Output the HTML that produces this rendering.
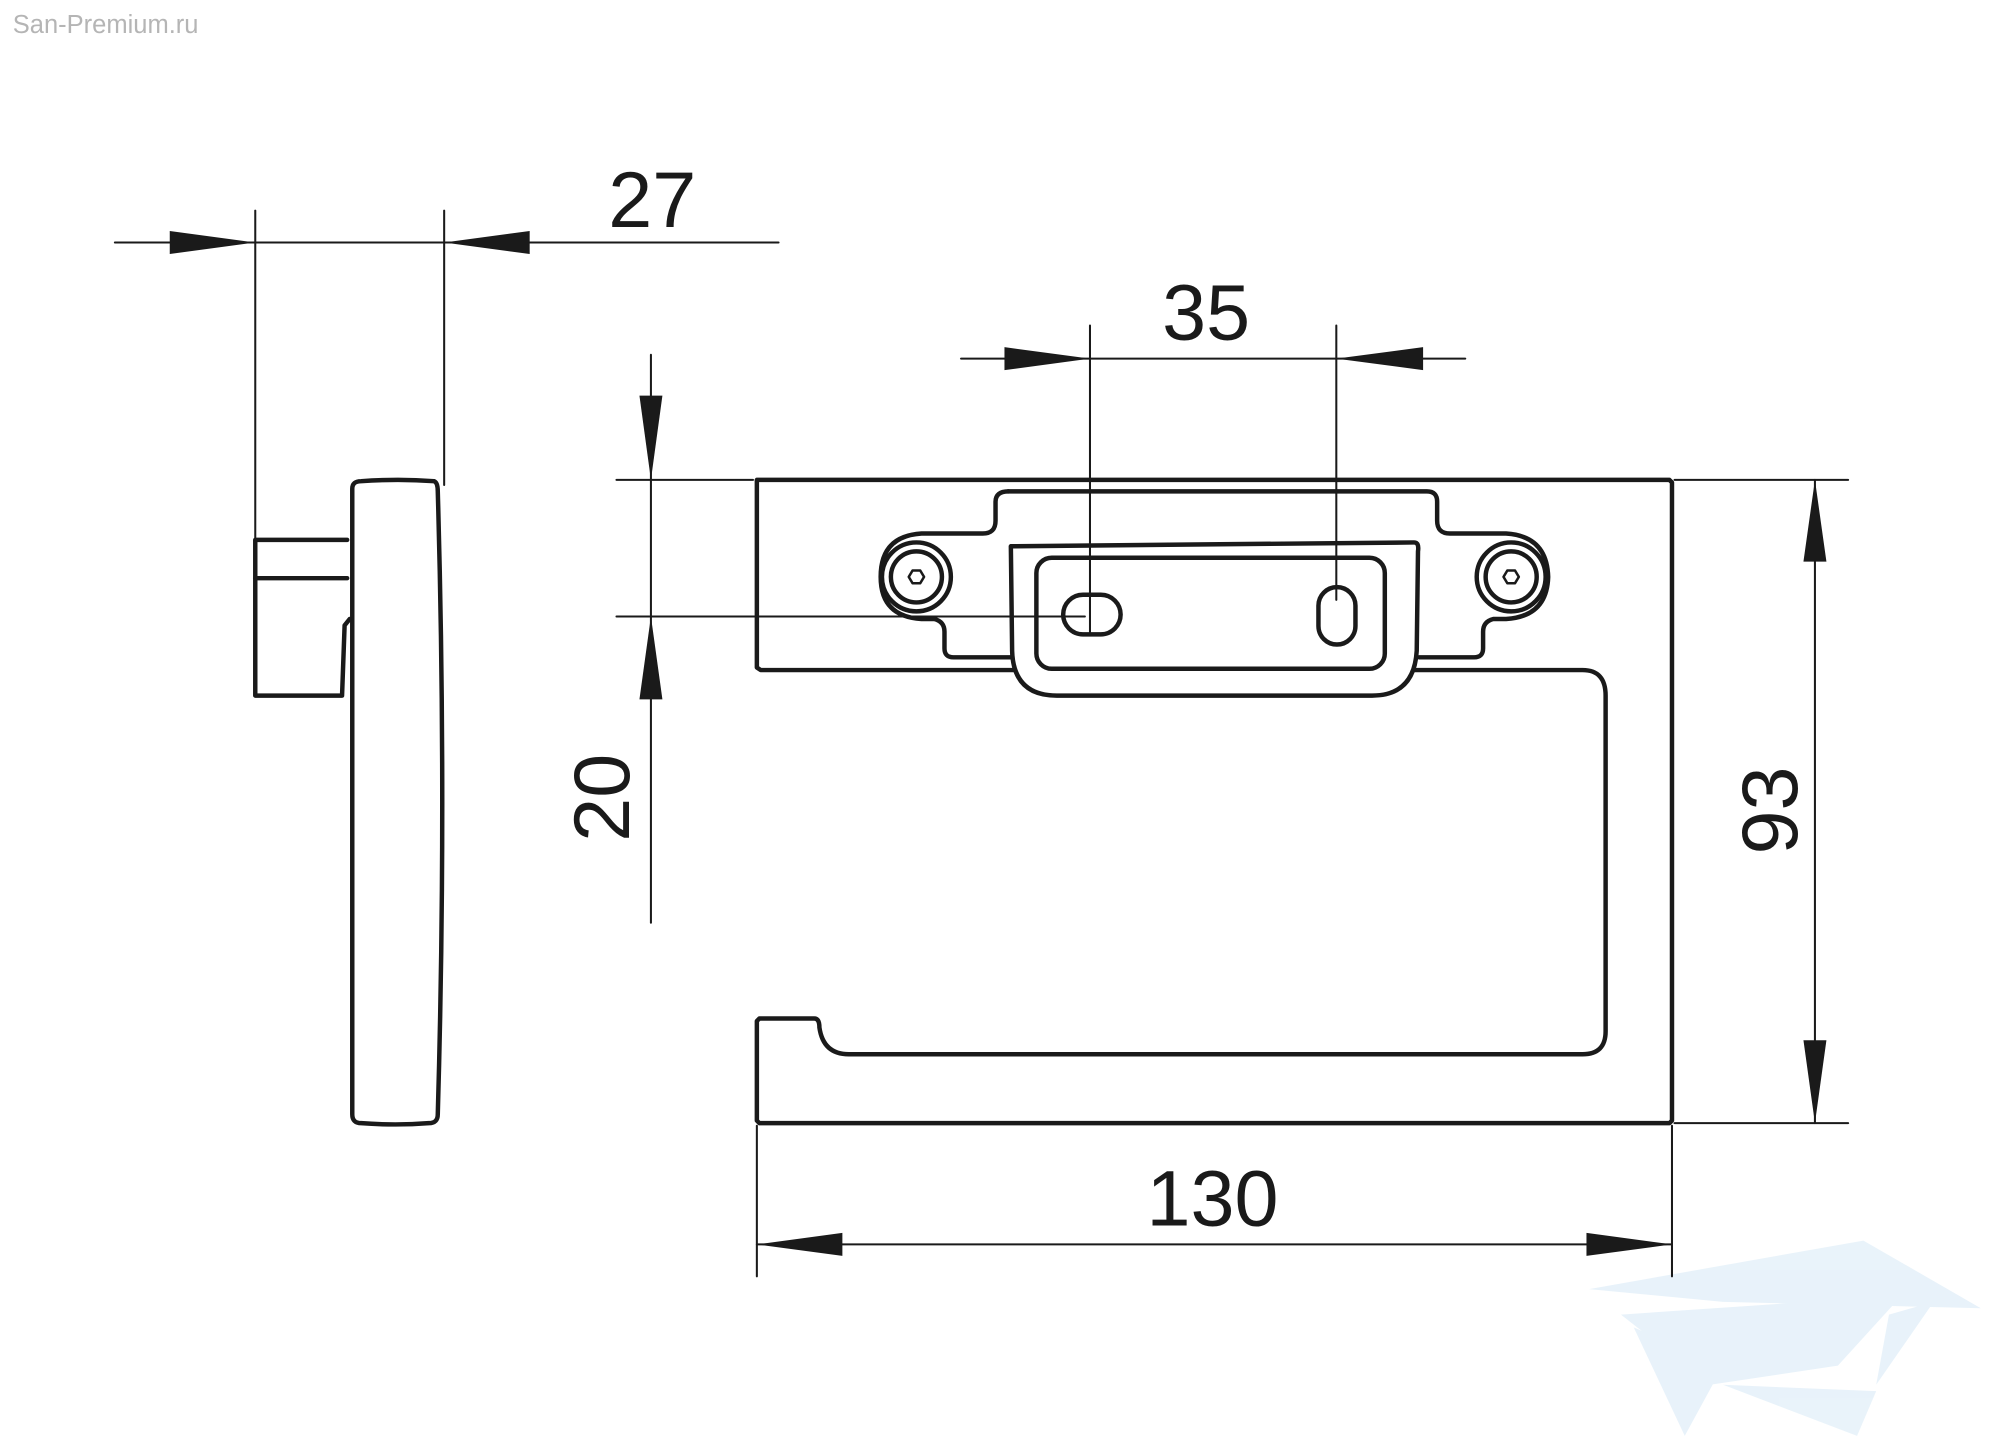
<!DOCTYPE html>
<html><head><meta charset="utf-8"><style>
html,body{margin:0;padding:0;background:#fff;}
svg{display:block;}
text{font-family:"Liberation Sans",sans-serif;fill:#1a1a1a;}
</style></head><body>
<svg width="2000" height="1455" viewBox="0 0 1567 1140" preserveAspectRatio="none" xmlns="http://www.w3.org/2000/svg">
<text x="10" y="26" font-size="20" style="fill:#b5b5b5">San-Premium.ru</text>

<!-- watermark logo -->
<g fill="#e3f0f9" opacity="0.8">
<polygon points="1245,1010 1460,972 1552,1025 1350,1020"/>
<polygon points="1270,1030 1490,1015 1440,1070 1340,1085"/>
<polygon points="1280,1040 1320,1125 1350,1070"/>
<polygon points="1350,1085 1470,1090 1455,1125"/>
<polygon points="1480,1030 1515,1020 1470,1085"/>
</g>

<g stroke="#1a1a1a" fill="none" stroke-linejoin="round" stroke-linecap="round">
<g stroke-width="1.6">
<line x1="90" y1="190" x2="610" y2="190"/>
<line x1="200" y1="165" x2="200" y2="425"/>
<line x1="348" y1="165" x2="348" y2="380"/>
<line x1="753" y1="281" x2="1148" y2="281"/>
<line x1="854" y1="255" x2="854" y2="497"/>
<line x1="1047" y1="255" x2="1047" y2="470"/>
<line x1="510" y1="278" x2="510" y2="723"/>
<line x1="483" y1="376" x2="590" y2="376"/>
<line x1="483" y1="483" x2="850" y2="483"/>
<line x1="1422" y1="376" x2="1422" y2="880"/>
<line x1="1312" y1="376" x2="1448" y2="376"/>
<line x1="1312" y1="880" x2="1448" y2="880"/>
<line x1="593" y1="975" x2="1310" y2="975"/>
<line x1="593" y1="882" x2="593" y2="1000"/>
<line x1="1310" y1="882" x2="1310" y2="1000"/>
</g>

<g stroke-width="3.5">
<path d="M276,383 Q276,377 283,377 Q312,375 340,377 Q343,378 343,385 Q350,630 343,873 Q343,880 336,880 Q310,882 283,880 Q276,880 276,873 Z"/>
<path d="M272,423 L200,423 L200,545 L268,545 L270,490 L274,485"/>
<line x1="200" y1="453" x2="272" y2="453"/>
</g>

<g stroke-width="3.5">
<path d="M593,376 L1308,376 L1310,378 L1310,878 L1308,880 L595,880 L593,878 L593,800 L595,798 L638,798 Q642,798 642,805 Q645,826 665,826 L1240,826 Q1258,826 1258,808 L1258,545 Q1258,525 1240,525 L1108,525 M795,525 L596,525 L593,523 L593,376"/>
<path d="M790,385 L1118,385 Q1126,385 1126,393 L1126,408 Q1126,418 1136,418 L1180,418 Q1212,420 1213,452 Q1212,483 1180,485 L1170,485 Q1162,487 1162,495 L1162,508 Q1162,515 1155,515 L1112,515"/>
<path d="M790,385 Q780,385 780,393 L780,408 Q780,418 770,418 L722,418 Q690,420 690,452 Q690,483 722,485 L732,485 Q740,487 740,495 L740,508 Q740,515 747,515 L792,515"/>
<path d="M792,428 L1108,425 Q1112,425 1111,432 L1110,510 Q1108,545 1075,545 L828,545 Q794,545 793,510 Z"/>
<rect x="812" y="437" width="273" height="87" rx="12"/>
<rect x="833" y="466" width="45" height="31" rx="15.5"/>
<rect x="1033" y="460" width="29" height="45" rx="14.5"/>
<circle cx="718" cy="452" r="27"/>
<circle cx="718" cy="452" r="20"/>
<polygon points="712,452 715,447 721,447 724,452 721,457 715,457" stroke-width="2"/>
<circle cx="1184" cy="452" r="27"/>
<circle cx="1184" cy="452" r="20"/>
<polygon points="1178,452 1181,447 1187,447 1190,452 1187,457 1181,457" stroke-width="2"/>
</g>
</g>

<g fill="#1a1a1a">
<polygon points="200,190 133,181 133,199"/>
<polygon points="348,190 415,181 415,199"/>
<polygon points="854,281 787,272 787,290"/>
<polygon points="1047,281 1115,272 1115,290"/>
<polygon points="510,376 501,310 519,310"/>
<polygon points="510,483 501,548 519,548"/>
<polygon points="1422,376 1413,440 1431,440"/>
<polygon points="1422,880 1413,815 1431,815"/>
<polygon points="593,975 660,966 660,984"/>
<polygon points="1310,975 1243,966 1243,984"/>
</g>

<text x="511" y="178" font-size="62" text-anchor="middle">27</text>
<text x="945" y="266" font-size="62" text-anchor="middle">35</text>
<text x="950" y="960" font-size="62" text-anchor="middle">130</text>
<text transform="translate(493,625) rotate(-90)" font-size="62" text-anchor="middle">20</text>
<text transform="translate(1408,635) rotate(-90)" font-size="62" text-anchor="middle">93</text>
</svg>
</body></html>
